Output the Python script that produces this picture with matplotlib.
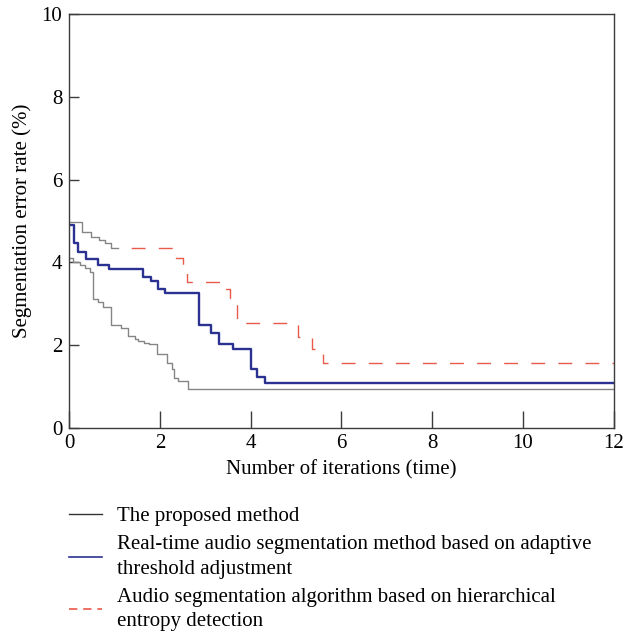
#!/usr/bin/env python3
# -*- coding: utf-8 -*-
import matplotlib.pyplot as plt
from matplotlib.lines import Line2D

X_AXIS_LABEL = 'Number of iterations (time)'
Y_AXIS_LABEL = 'Segmentation error rate (%)'

PROPOSED_LABEL = 'The proposed method'
ADAPTIVE_LABEL = 'Real-time audio segmentation method based on adaptive\nthreshold adjustment'
ENTROPY_LABEL = 'Audio segmentation algorithm based on hierarchical\nentropy detection'

X_TICKS = [0, 2, 4, 6, 8, 10, 12]
Y_TICKS = [0, 2, 4, 6, 8, 10]

# step curves, value holds from x[i] until x[i + 1]
proposed_x = [0, 0.09, 0.24, 0.35, 0.46, 0.53, 0.64, 0.75, 0.93, 1.15, 1.30, 1.45,
              1.52, 1.66, 1.77, 1.94, 2.15, 2.26, 2.30, 2.40, 2.62, 12]
proposed_y = [4.10, 4.02, 3.94, 3.86, 3.78, 3.12, 3.05, 2.93, 2.50, 2.42, 2.22, 2.16,
              2.10, 2.06, 2.02, 1.78, 1.58, 1.42, 1.20, 1.14, 0.95, 0.95]

adaptive_x = [0, 0.11, 0.19, 0.37, 0.63, 0.88, 1.62, 1.80, 1.95, 2.12, 2.87, 3.12,
              3.31, 3.62, 4.00, 4.15, 4.32, 12]
adaptive_y = [4.90, 4.48, 4.26, 4.09, 3.95, 3.83, 3.66, 3.55, 3.36, 3.25, 2.48, 2.30,
              2.04, 1.90, 1.42, 1.24, 1.08, 1.08]

entropy_x = [0, 0.29, 0.49, 0.66, 0.79, 0.93, 2.29, 2.51, 2.59, 3.40, 3.55, 3.69,
             5.05, 5.35, 5.60, 12]
entropy_y = [4.98, 4.74, 4.62, 4.54, 4.46, 4.36, 4.10, 3.88, 3.53, 3.35, 3.15, 2.53,
             2.21, 1.90, 1.57, 1.57]
# the first part of the entropy curve is printed grey in the source figure
ENTROPY_GREY_UNTIL = 1.08

GREY = '#858585'
BLUE = '#2b3190'
RED = '#ea5a4a'
SPINE = '#3c3c3c'

FONT = 'Liberation Serif'
FONT_SIZE = 15


def split_step(xs, ys, x_split):
    first_x, first_y, rest_x, rest_y = [], [], [x_split], []
    for x, y in zip(xs, ys):
        if x <= x_split:
            first_x.append(x)
            first_y.append(y)
        else:
            rest_x.append(x)
            rest_y.append(y)
    first_x.append(x_split)
    first_y.append(first_y[-1])
    rest_y.insert(0, first_y[-1])
    return first_x, first_y, rest_x, rest_y


def draw_curves(ax):
    ax.step(proposed_x, proposed_y, where='post', color=GREY, lw=1.0)
    ax.step(adaptive_x, adaptive_y, where='post', color=BLUE, lw=1.7)

    gx, gy, rx, ry = split_step(entropy_x, entropy_y, ENTROPY_GREY_UNTIL)
    ax.step(gx, gy, where='post', color=GREY, lw=1.0)
    # start with a gap, as the source does after the grey part
    ax.step(rx, ry, where='post', color=RED, lw=1.0, linestyle=(10, (10, 9.5)))


def stylize_axes(ax):
    ax.set_xlim(0, 12)
    ax.set_ylim(0, 10)
    ax.set_xticks(X_TICKS)
    ax.set_yticks(Y_TICKS)
    ax.tick_params(axis='x', direction='in', length=12, width=1.0, color=SPINE,
                   pad=4, labelsize=FONT_SIZE)
    ax.tick_params(axis='y', direction='in', length=7, width=1.0, color=SPINE,
                   pad=5, labelsize=FONT_SIZE)
    for spine in ax.spines.values():
        spine.set_color(SPINE)
        spine.set_linewidth(1.0)
    ax.set_xlabel(X_AXIS_LABEL, fontsize=FONT_SIZE, labelpad=5)
    ax.set_ylabel(Y_AXIS_LABEL, fontsize=FONT_SIZE, labelpad=7)


def add_legend(fig):
    handles = [
        Line2D([], [], color='#333333', lw=1.0),
        Line2D([], [], color=BLUE, lw=1.2),
        Line2D([], [], color=RED, lw=1.2, dashes=(5, 3.5)),
    ]
    legend = fig.legend(handles, [PROPOSED_LABEL, ADAPTIVE_LABEL, ENTROPY_LABEL],
                        loc='upper left', bbox_to_anchor=(0.111, 0.205),
                        frameon=False, borderpad=0, borderaxespad=0,
                        handlelength=1.6, handletextpad=0.7, labelspacing=0.45,
                        prop={'family': FONT, 'size': FONT_SIZE})
    for text in legend.get_texts():
        text.set_linespacing(1.38)


def build_graph():
    plt.rcParams['font.family'] = [FONT, 'DejaVu Serif']
    fig = plt.figure(figsize=(6.23, 6.37), dpi=100)
    ax = fig.add_axes([0.111, 0.328, 0.874, 0.650])

    draw_curves(ax)
    stylize_axes(ax)
    add_legend(fig)

    fig.savefig('out.png', dpi=100)


if __name__ == '__main__':
    build_graph()
